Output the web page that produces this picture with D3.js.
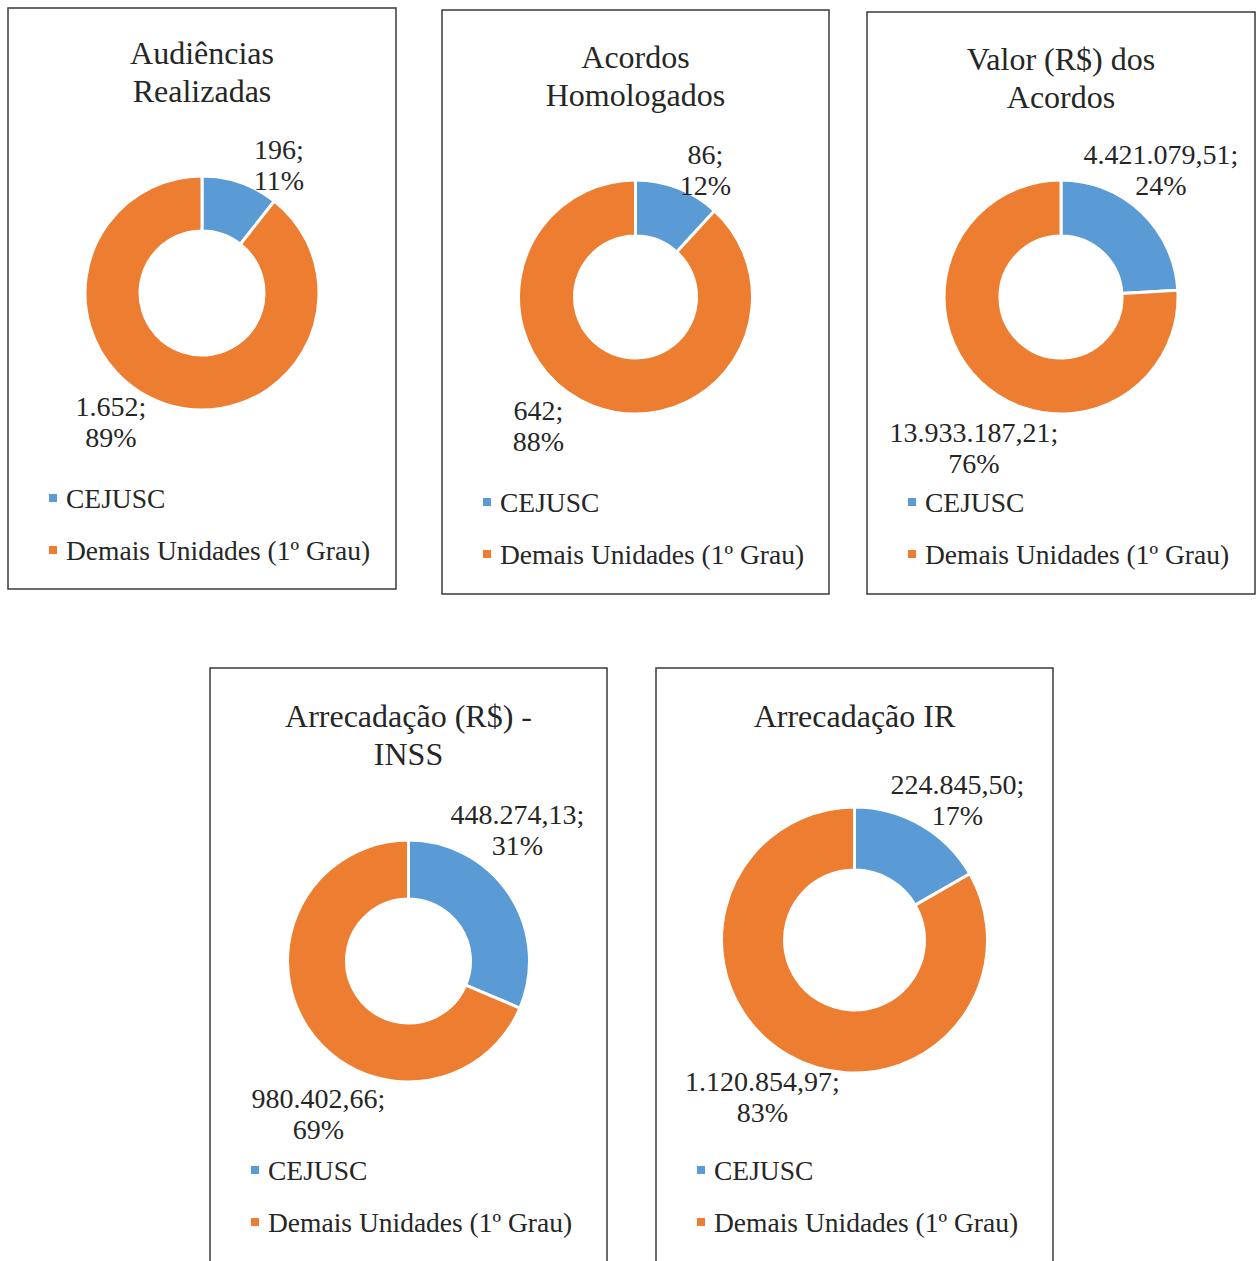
<!DOCTYPE html>
<html lang="pt">
<head>
    <title>CEJUSC x Demais Unidades</title>
    <meta charset="utf-8">
    <style>
        body { margin: 0; background: white; }
        svg { display: block; background: white; }
        .box { fill: white; stroke: #3a3a3a; stroke-width: 1.5; }
        .title { font-family: "Liberation Serif", "Times New Roman", serif; font-size: 32px; fill: #262626; text-anchor: middle; }
        .label { font-family: "Liberation Serif", "Times New Roman", serif; font-size: 28px; fill: #262626; text-anchor: middle; }
        .legend { font-family: "Liberation Serif", "Times New Roman", serif; font-size: 27.5px; fill: #262626; }
    </style>
    <script src="https://d3js.org/d3.v7.min.js"></script>
</head>
<body>
<svg id="chart" width="1257" height="1261"></svg>
<script>
    // dados
    const titles = [
        ["Audiências", "Realizadas"],
        ["Acordos", "Homologados"],
        ["Valor (R$) dos", "Acordos"],
        ["Arrecadação (R$) -", "INSS"],
        ["Arrecadação IR"]
    ];
    const categories = ["CEJUSC", "Demais Unidades (1º Grau)"];
    const cejusc = [196, 86, 4421079.51, 448274.13, 224845.50];
    const demais = [1652, 642, 13933187.21, 980402.66, 1120854.97];
    const decimals = [0, 0, 2, 2, 2];

    // layout de cada quadro
    const panels = [
        { x: 8,   y: 8,   w: 388, h: 581, cy: 285, r: 117, ri: 62, titleY: 45, legY: 490, blue: [77, -128],  orange: [-91, 129] },
        { x: 442, y: 10,  w: 387, h: 584, cy: 287, r: 117, ri: 61, titleY: 47, legY: 492, blue: [70, -127],  orange: [-97, 129] },
        { x: 867, y: 12,  w: 388, h: 582, cy: 285, r: 117, ri: 61, titleY: 47, legY: 490, blue: [100, -127], orange: [-87, 151] },
        { x: 210, y: 668, w: 397, h: 620, cy: 293, r: 121, ri: 62, titleY: 48, legY: 502, blue: [109, -131], orange: [-90, 153] },
        { x: 656, y: 668, w: 397, h: 620, cy: 272, r: 133, ri: 70, titleY: 48, legY: 502, blue: [103, -140], orange: [-92, 157] }
    ];

    const color = d3.scaleOrdinal(categories, ["#5B9BD5", "#ED7D31"]);
    const br = d3.formatLocale({ decimal: ",", thousands: ".", grouping: [3], currency: ["R$", ""] });
    const pct = br.format(".0%");

    const svg = d3.select("#chart");
    const pie = d3.pie().sort(null).value(d => d.value);

    panels.forEach((p, i) => {
        const g = svg.append("g").attr("transform", `translate(${p.x},${p.y})`);
        g.append("rect").attr("class", "box").attr("width", p.w).attr("height", p.h);

        titles[i].forEach((t, j) => {
            g.append("text")
                .attr("class", "title")
                .attr("x", p.w / 2)
                .attr("y", p.titleY + j * 38)
                .attr("dominant-baseline", "central")
                .text(t);
        });

        const data = [
            { name: categories[0], value: cejusc[i] },
            { name: categories[1], value: demais[i] }
        ];
        const total = d3.sum(data, d => d.value);
        const fmt = br.format(decimals[i] ? ",.2f" : ",d");
        const arc = d3.arc().innerRadius(p.ri).outerRadius(p.r);

        const donut = g.append("g").attr("transform", `translate(${p.w / 2},${p.cy})`);
        donut.selectAll("path")
            .data(pie(data))
            .join("path")
            .attr("d", arc)
            .attr("fill", d => color(d.data.name))
            .attr("stroke", "white")
            .attr("stroke-width", 3);

        data.forEach((d, k) => {
            const off = k === 0 ? p.blue : p.orange;
            const lines = [fmt(d.value) + ";", pct(d.value / total)];
            lines.forEach((l, j) => {
                donut.append("text")
                    .attr("class", "label")
                    .attr("x", off[0])
                    .attr("y", off[1] + (j - 0.5) * 31)
                    .attr("dominant-baseline", "central")
                    .text(l);
            });
        });

        const leg = g.selectAll(".leg")
            .data(categories)
            .join("g")
            .attr("transform", (c, k) => `translate(45,${p.legY + k * 52})`);
        leg.append("rect")
            .attr("x", -4).attr("y", -4)
            .attr("width", 8).attr("height", 8)
            .attr("fill", c => color(c));
        leg.append("text")
            .attr("class", "legend")
            .attr("x", 13)
            .attr("dominant-baseline", "central")
            .text(c => c);
    });
</script>
</body>
</html>
